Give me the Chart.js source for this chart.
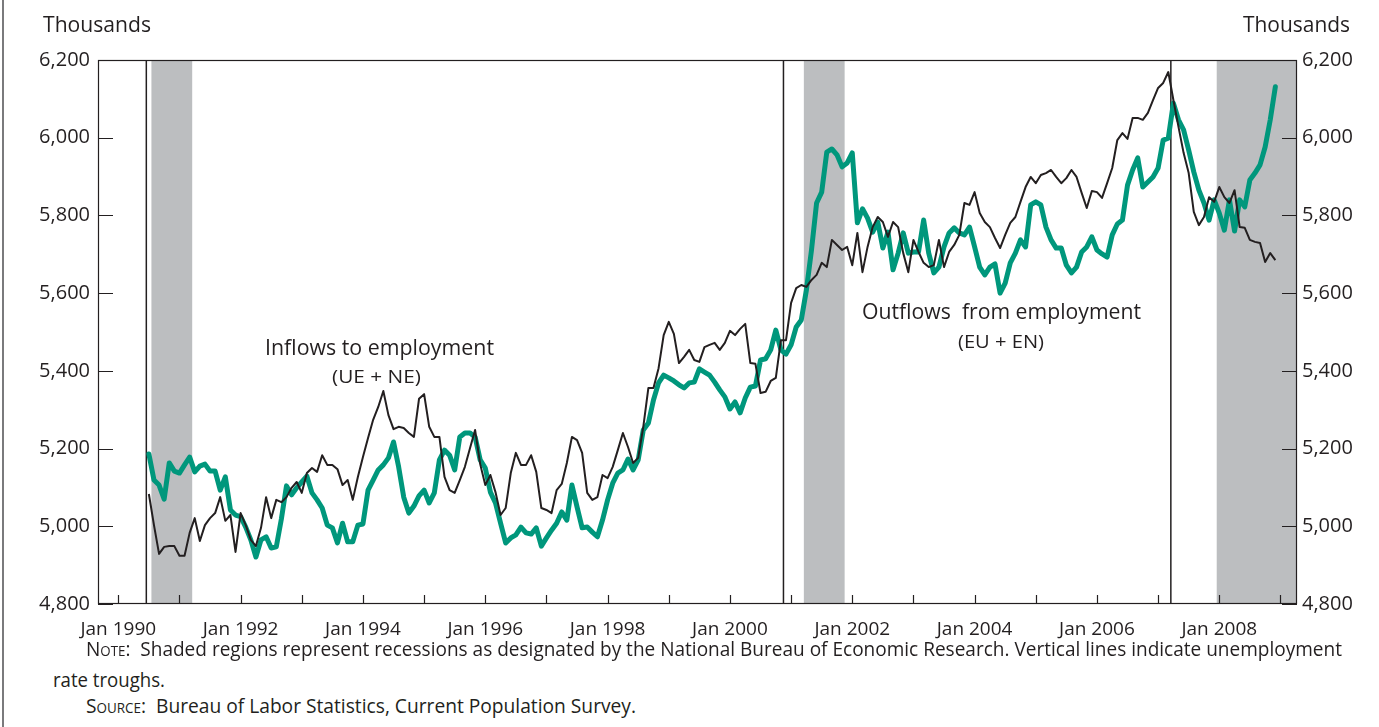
<!DOCTYPE html>
<html>
<head>
<meta charset="utf-8">
<script src="https://cdn.jsdelivr.net/npm/chart.js@4.4.1/dist/chart.umd.min.js"></script>
<style>
html,body{margin:0;padding:0;background:#fff;}
body{width:1379px;height:727px;position:relative;overflow:hidden;font-family:"Open Sans",sans-serif;color:#231f20;}
#edge{position:absolute;left:2px;top:0;width:2px;height:727px;background:#7a7a7c;}
#c{position:absolute;left:0;top:0;}
.t{position:absolute;left:0;top:0;white-space:pre;line-height:1;transform-origin:left top;}
.sc{font-variant:small-caps;}
</style>
</head>
<body>
<div id="edge"></div>
<canvas id="c" width="1379" height="650" style="width:1379px;height:650px;"></canvas>
<script>
// ---------- data ----------
const firstMonth = '1990-07';              // first monthly observation
const xTickMonths = ['1990-01','1991-01','1992-01','1993-01','1994-01','1995-01','1996-01','1997-01','1998-01','1999-01','2000-01','2001-01','2002-01','2003-01','2004-01','2005-01','2006-01','2007-01','2008-01','2009-01'];
const xTickLabels = ['Jan 1990','','Jan 1992','','Jan 1994','','Jan 1996','','Jan 1998','','Jan 2000','','Jan 2002','','Jan 2004','','Jan 2006','','Jan 2008',''];
const yTicks = [4800, 5000, 5200, 5400, 5600, 5800, 6000, 6200];
const recessionStarts = ['1990-07', '2001-03', '2007-12'];
const recessionEnds = ['1991-03', '2001-11', null];
const unemploymentTroughs = ['1990-06', '2000-11', '2007-03'];

// Inflows to employment (UE + NE), thousands, monthly from Jul 1990
const inflows = [
 5083,5003,4929,4947,4949,4949,4924,4924,4983,5021,
 4962,5003,5021,5034,5075,5014,5029,4934,5034,5003,
 4965,4949,4996,5075,5021,5068,5062,5075,5099,5114,
 5086,5137,5150,5140,5183,5158,5158,5147,5106,5119,
 5068,5127,5178,5227,5274,5307,5348,5286,5250,5256,
 5253,5240,5230,5328,5340,5256,5230,5230,5127,5093,
 5086,5119,5153,5201,5248,5160,5106,5132,5088,5029,
 5047,5137,5189,5158,5158,5183,5140,5047,5042,5034,
 5093,5109,5163,5230,5222,5189,5086,5068,5075,5132,
 5124,5153,5196,5240,5204,5163,5176,5256,5356,5356,
 5407,5492,5526,5495,5420,5436,5454,5428,5423,5461,
 5467,5472,5454,5472,5503,5492,5508,5521,5420,5418,
 5343,5346,5374,5382,5479,5479,5575,5613,5621,5616,
 5634,5647,5678,5667,5737,5724,5711,5719,5672,5755,
 5654,5719,5770,5796,5783,5745,5783,5770,5703,5654,
 5737,5706,5678,5667,5672,5737,5667,5706,5724,5750,
 5832,5827,5860,5806,5783,5770,5742,5716,5750,5781,
 5796,5835,5873,5899,5883,5904,5909,5917,5899,5883,
 5896,5917,5899,5858,5819,5863,5860,5845,5883,5922,
 5994,6012,5997,6051,6051,6046,6064,6097,6128,6141,
 6169,6097,6028,5961,5909,5809,5775,5796,5847,5835,
 5873,5847,5832,5865,5770,5768,5737,5732,5729,5680,
 5703,5685
];
// Outflows from employment (EU + EN), thousands, monthly from Jul 1990
const outflows = [
 5186,5119,5106,5070,5163,5142,5137,5158,5178,5140,
 5155,5160,5142,5142,5093,5127,5042,5029,5025,4998,
 4965,4921,4965,4973,4944,4947,5019,5104,5081,5099,
 5114,5129,5086,5068,5047,5003,4996,4957,5008,4960,
 4960,5003,5006,5093,5119,5145,5158,5176,5217,5153,
 5075,5034,5052,5078,5093,5060,5086,5171,5196,5183,
 5145,5230,5240,5240,5230,5171,5150,5088,5060,5008,
 4957,4970,4978,4998,4983,4980,4996,4949,4970,4990,
 5008,5037,5016,5106,5050,4996,4998,4985,4973,5016,
 5068,5111,5137,5145,5173,5145,5171,5248,5266,5325,
 5369,5389,5382,5374,5364,5356,5369,5371,5405,5397,
 5389,5371,5351,5333,5302,5320,5292,5330,5358,5361,
 5428,5431,5454,5505,5454,5443,5467,5513,5531,5608,
 5711,5832,5860,5963,5971,5956,5925,5935,5961,5781,
 5817,5793,5757,5783,5716,5757,5660,5703,5755,5703,
 5706,5706,5788,5703,5652,5667,5719,5755,5768,5755,
 5750,5770,5719,5667,5647,5667,5675,5600,5626,5678,
 5703,5737,5719,5827,5835,5827,5770,5737,5716,5716,
 5672,5652,5667,5706,5719,5745,5711,5701,5693,5750,
 5778,5788,5878,5917,5948,5873,5886,5899,5922,5994,
 5999,6089,6046,6020,5968,5912,5865,5832,5788,5840,
 5806,5762,5840,5760,5840,5822,5891,5909,5930,5976,
 6046,6131
];

// ---------- helpers ----------
function monthIndex(s) { const [y, m] = s.split('-').map(Number); return (y - 1990) * 12 + (m - 1); }
const start = monthIndex(firstMonth);
const toPoints = arr => arr.map((v, i) => ({x: start + i, y: v}));
const tickVals = xTickMonths.map(monthIndex);

const INK = '#231f20';
const GREEN = '#00977c';
const SHADE = '#bcbec0';

const overlay = {
  id: 'overlay',
  beforeDatasetsDraw(chart) {
    const {ctx, chartArea: a, scales: {x}} = chart;
    ctx.save();
    ctx.fillStyle = SHADE;
    recessionStarts.forEach((s, i) => {
      const x0 = x.getPixelForValue(monthIndex(s) + 0.5);
      const x1 = recessionEnds[i] ? x.getPixelForValue(monthIndex(recessionEnds[i]) + 0.5) : a.right;
      ctx.fillRect(x0, a.top, x1 - x0, a.bottom - a.top);
    });
    ctx.strokeStyle = INK;
    ctx.lineWidth = 1.5;
    unemploymentTroughs.forEach(t => {
      const px = x.getPixelForValue(monthIndex(t) + 0.5);
      ctx.beginPath(); ctx.moveTo(px, a.top); ctx.lineTo(px, a.bottom); ctx.stroke();
    });
    ctx.restore();
  },
  afterDraw(chart) {
    const {ctx, chartArea: a, scales: {x, y}} = chart;
    ctx.save();
    ctx.strokeStyle = INK;
    ctx.lineWidth = 1.2;
    ctx.beginPath();
    tickVals.forEach(v => {
      const px = Math.round(x.getPixelForValue(v)) + 0.5;
      ctx.moveTo(px, a.bottom); ctx.lineTo(px, a.bottom - 9);
    });
    yTicks.forEach(v => {
      const py = Math.round(y.getPixelForValue(v)) + 0.5;
      ctx.moveTo(a.left, py); ctx.lineTo(a.left + 15, py);
      ctx.moveTo(a.right, py); ctx.lineTo(a.right - 15, py);
    });
    ctx.stroke();
    ctx.strokeRect(a.left + 0.5, a.top + 0.5, a.right - a.left - 1, a.bottom - a.top - 1);
    ctx.restore();
  }
};

function yAxis(position, width, pad) {
  return {
    position, min: 4800, max: 6200,
    grid: {display: false, drawTicks: false},
    border: {display: false},
    afterBuildTicks: s => { s.ticks = yTicks.map(v => ({value: v})); },
    afterFit: s => { s.width = width; },
    ticks: {padding: pad, color: INK, font: {size: 20}, callback: v => v.toLocaleString('en-US')}
  };
}

function build() {
  Chart.defaults.font.family = '"Open Sans", sans-serif';
  Chart.defaults.color = INK;
  new Chart(document.getElementById('c'), {
    type: 'line',
    data: {
      datasets: [
        {label: 'Inflows to employment (UE + NE)', data: toPoints(inflows), borderColor: INK, borderWidth: 2, borderJoinStyle: 'round', pointRadius: 0, tension: 0, yAxisID: 'y'},
        {label: 'Outflows from employment (EU + EN)', data: toPoints(outflows), borderColor: GREEN, borderWidth: 5, borderJoinStyle: 'round', borderCapStyle: 'round', pointRadius: 0, tension: 0, yAxisID: 'y'}
      ]
    },
    options: {
      responsive: false, animation: false, devicePixelRatio: 1,
      layout: {padding: {top: 60, left: 0, right: 0, bottom: 0}},
      plugins: {legend: {display: false}, tooltip: {enabled: false}},
      scales: {
        x: {
          type: 'linear', min: -3.98, max: 231.25,
          grid: {display: false, drawTicks: false}, border: {display: false},
          afterBuildTicks: s => { s.ticks = tickVals.map(v => ({value: v})); },
          afterFit: s => { s.height = 46; },
          ticks: {autoSkip: false, maxRotation: 0, minRotation: 0, padding: 14, color: INK, font: {size: 19},
            callback: v => { const i = tickVals.indexOf(v); return i >= 0 ? xTickLabels[i] : ''; }}
        },
        y: yAxis('left', 98, 8),
        y2: yAxis('right', 82, 5)
      }
    },
    plugins: [overlay]
  });
}

// ---------- HTML text ----------
function place(html, x, baseline, fs, width, align) {
  const d = document.createElement('div');
  d.className = 't';
  d.style.fontSize = fs + 'px';
  d.innerHTML = html + '<span style="display:inline-block;width:0;height:0;vertical-align:baseline"></span>';
  document.body.appendChild(d);
  const mark = d.lastChild;
  const b = mark.offsetTop;
  const w = d.getBoundingClientRect().width;
  const s = width ? width / w : 1;
  const realW = w * s;
  const left = align === 'center' ? x - realW / 2 : x;
  d.style.left = left + 'px';
  d.style.top = (baseline - b) + 'px';
  d.style.transform = 'scaleX(' + s + ')';
}

function texts() {
  place('Thousands', 42.7, 31.5, 22, 108, 'left');
  place('Thousands', 1243, 31.5, 22, 107, 'left');
  place('Inflows to employment', 379.7, 355, 21, 229, 'center');
  place('(UE + NE)', 376.4, 383, 19, 89, 'center');
  place('Outflows  from employment', 1001, 319, 21, 279, 'center');
  place('(EU + EN)', 1001, 348, 19, 86, 'center');
  place('<span class="sc">Note</span>:  Shaded regions represent recessions as designated by the National Bureau of Economic Research. Vertical lines indicate unemployment', 86, 656, 20, 1256, 'left');
  place('rate troughs.', 53, 687, 20, 112, 'left');
  place('<span class="sc">Source</span>:  Bureau of Labor Statistics, Current Population Survey.', 86, 713, 20, 550, 'left');
}

const ready = (document.fonts && document.fonts.load) ? Promise.all([document.fonts.load('20px "Open Sans"')]).catch(() => {}) : Promise.resolve();
ready.then(() => { build(); texts(); });
</script>
</body>
</html>
